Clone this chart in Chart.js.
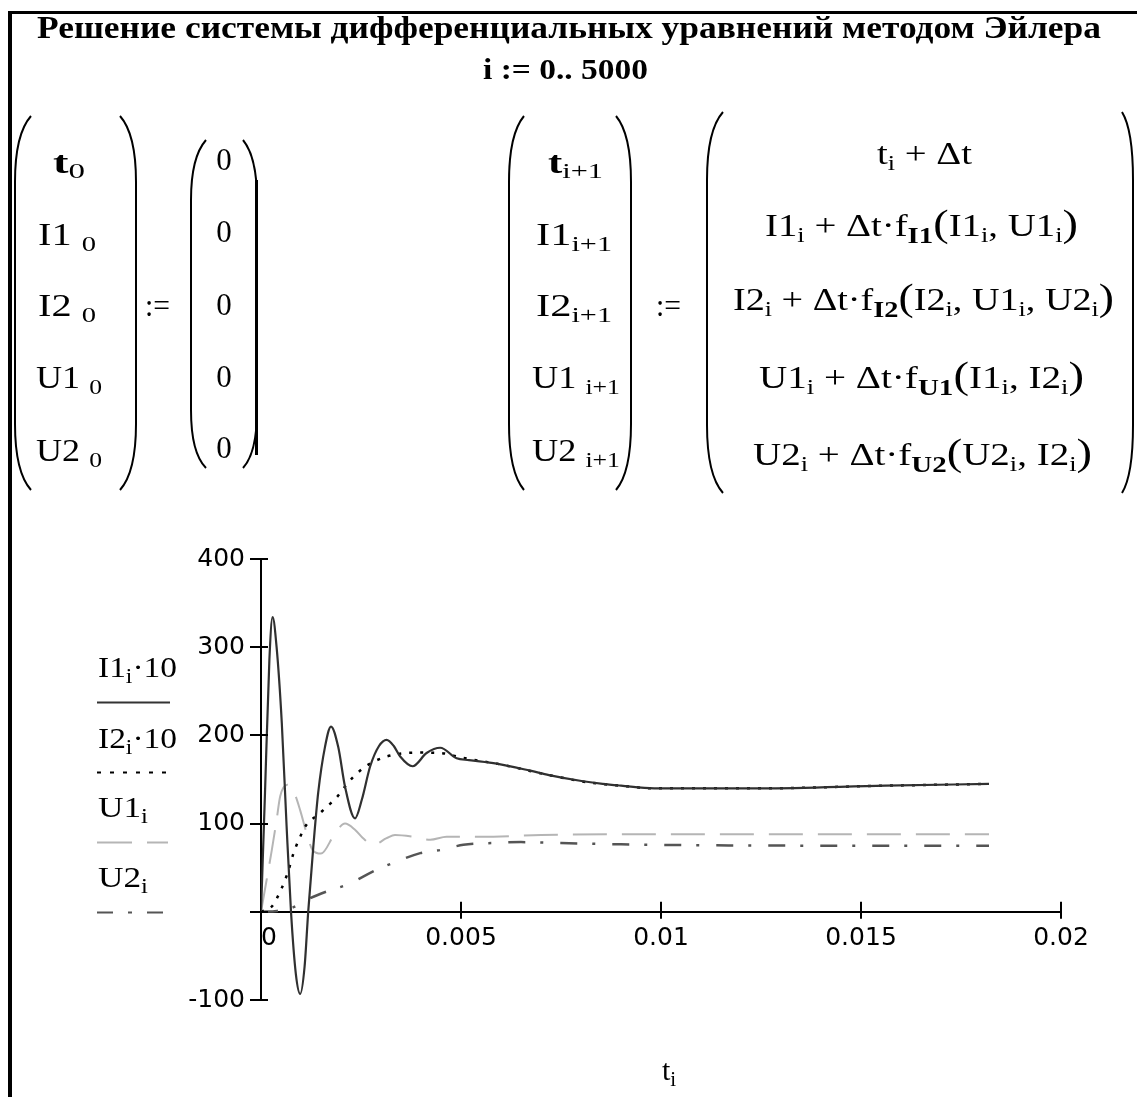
<!DOCTYPE html>
<html>
<head>
<meta charset="utf-8">
<script src="https://cdn.jsdelivr.net/npm/chart.js@4.4.1/dist/chart.umd.min.js"></script>
<style>
  html, body { margin:0; padding:0; background:#fff; overflow:hidden; }
  #wrap { position:relative; width:1137px; height:1097px; }
  #c { position:absolute; left:0; top:0; width:1137px; height:1097px; }
  #ov { position:absolute; left:0; top:0; width:1137px; height:1097px; pointer-events:none; }
  #ov text { white-space: pre; font-family: "Liberation Serif", "Times New Roman", serif; fill:#000; }
</style>
</head>
<body>
<div id="wrap">
<canvas id="c" width="1137" height="1097"></canvas>
<svg id="ov" width="1137" height="1097" viewBox="0 0 1137 1097" xmlns="http://www.w3.org/2000/svg">
  <!-- frame -->
  <rect x="8" y="11" width="1129" height="3" fill="#000"/>
  <rect x="8" y="11" width="4" height="1086" fill="#000"/>

  <!-- title -->
  <text x="37" y="38" font-size="32" font-weight="bold" textLength="1064" lengthAdjust="spacingAndGlyphs">Решение системы дифференциальных уравнений методом Эйлера</text>
  <text x="483" y="79" font-size="29" font-weight="bold" textLength="165" lengthAdjust="spacingAndGlyphs">i := 0.. 5000</text>

  <!-- parentheses -->
  <g fill="none" stroke="#000" stroke-width="2">
    <path d="M31 116 Q15 134 15 182 L15 424 Q15 472 31 490"/>
    <path d="M120 116 Q136 134 136 182 L136 424 Q136 472 120 490"/>
    <path d="M206 140 Q191 157 191 200 L191 410 Q191 453 206 468"/>
    <path d="M243 140 Q257 157 257 200 L257 410 Q257 453 243 468"/>
    <path d="M524 116 Q509 134 509 182 L509 424 Q509 472 524 490"/>
    <path d="M616 116 Q631 134 631 182 L631 424 Q631 472 616 490"/>
    <path d="M723 112 Q707 130 707 180 L707 425 Q707 475 723 493"/>
    <path d="M1122 112 Q1133 130 1133 180 L1133 425 Q1133 475 1122 493"/>
  </g>
  <rect x="255" y="180" width="3" height="275" fill="#000"/>

  <g font-size="31">
    <text x="53" y="173" textLength="32" lengthAdjust="spacingAndGlyphs"><tspan font-weight="bold">t</tspan><tspan dy="5" font-size="22">0</tspan></text>
    <text x="38" y="245" textLength="58" lengthAdjust="spacingAndGlyphs">I1 <tspan dy="6" font-size="22">0</tspan></text>
    <text x="38" y="316" textLength="58" lengthAdjust="spacingAndGlyphs">I2 <tspan dy="6" font-size="22">0</tspan></text>
    <text x="36" y="388" textLength="66" lengthAdjust="spacingAndGlyphs">U1 <tspan dy="6" font-size="22">0</tspan></text>
    <text x="36" y="461" textLength="66" lengthAdjust="spacingAndGlyphs">U2 <tspan dy="6" font-size="22">0</tspan></text>

    <text x="145" y="316" textLength="25" lengthAdjust="spacingAndGlyphs">:=</text>

    <text x="224" y="170" text-anchor="middle">0</text>
    <text x="224" y="242" text-anchor="middle">0</text>
    <text x="224" y="315" text-anchor="middle">0</text>
    <text x="224" y="387" text-anchor="middle">0</text>
    <text x="224" y="458" text-anchor="middle">0</text>

    <text x="548" y="173" textLength="55" lengthAdjust="spacingAndGlyphs"><tspan font-weight="bold">t</tspan><tspan dy="5" font-size="22">i+1</tspan></text>
    <text x="536" y="245" textLength="76" lengthAdjust="spacingAndGlyphs">I1<tspan dy="6" font-size="22">i+1</tspan></text>
    <text x="536" y="316" textLength="76" lengthAdjust="spacingAndGlyphs">I2<tspan dy="6" font-size="22">i+1</tspan></text>
    <text x="532" y="388" textLength="88" lengthAdjust="spacingAndGlyphs">U1 <tspan dy="6" font-size="22">i+1</tspan></text>
    <text x="532" y="461" textLength="88" lengthAdjust="spacingAndGlyphs">U2 <tspan dy="6" font-size="22">i+1</tspan></text>

    <text x="656" y="316" textLength="25" lengthAdjust="spacingAndGlyphs">:=</text>

    <text x="877" y="164" textLength="95" lengthAdjust="spacingAndGlyphs">t<tspan dy="6" font-size="21">i</tspan><tspan dy="-6"> + Δt</tspan></text>
    <text x="765" y="236" textLength="313" lengthAdjust="spacingAndGlyphs">I1<tspan dy="6" font-size="21">i</tspan><tspan dy="-6"> + Δt·f</tspan><tspan dy="7" font-size="23" font-weight="bold">I1</tspan><tspan dy="-7" font-size="37">(</tspan>I1<tspan dy="6" font-size="21">i</tspan><tspan dy="-6">, U1</tspan><tspan dy="6" font-size="21">i</tspan><tspan dy="-6" font-size="37">)</tspan></text>
    <text x="733" y="310" textLength="381" lengthAdjust="spacingAndGlyphs">I2<tspan dy="6" font-size="21">i</tspan><tspan dy="-6"> + Δt·f</tspan><tspan dy="7" font-size="23" font-weight="bold">I2</tspan><tspan dy="-7" font-size="37">(</tspan>I2<tspan dy="6" font-size="21">i</tspan><tspan dy="-6">, U1</tspan><tspan dy="6" font-size="21">i</tspan><tspan dy="-6">, U2</tspan><tspan dy="6" font-size="21">i</tspan><tspan dy="-6" font-size="37">)</tspan></text>
    <text x="759" y="388" textLength="325" lengthAdjust="spacingAndGlyphs">U1<tspan dy="6" font-size="21">i</tspan><tspan dy="-6"> + Δt·f</tspan><tspan dy="7" font-size="23" font-weight="bold">U1</tspan><tspan dy="-7" font-size="37">(</tspan>I1<tspan dy="6" font-size="21">i</tspan><tspan dy="-6">, I2</tspan><tspan dy="6" font-size="21">i</tspan><tspan dy="-6" font-size="37">)</tspan></text>
    <text x="753" y="465" textLength="339" lengthAdjust="spacingAndGlyphs">U2<tspan dy="6" font-size="21">i</tspan><tspan dy="-6"> + Δt·f</tspan><tspan dy="7" font-size="23" font-weight="bold">U2</tspan><tspan dy="-7" font-size="37">(</tspan>U2<tspan dy="6" font-size="21">i</tspan><tspan dy="-6">, I2</tspan><tspan dy="6" font-size="21">i</tspan><tspan dy="-6" font-size="37">)</tspan></text>
  </g>

  <!-- legend -->
  <g font-size="30">
    <text x="98" y="677" textLength="79" lengthAdjust="spacingAndGlyphs">I1<tspan dy="6" font-size="21">i</tspan><tspan dy="-6">·10</tspan></text>
    <text x="98" y="748" textLength="79" lengthAdjust="spacingAndGlyphs">I2<tspan dy="6" font-size="21">i</tspan><tspan dy="-6">·10</tspan></text>
    <text x="98" y="817" textLength="50" lengthAdjust="spacingAndGlyphs">U1<tspan dy="6" font-size="21">i</tspan></text>
    <text x="98" y="887" textLength="50" lengthAdjust="spacingAndGlyphs">U2<tspan dy="6" font-size="21">i</tspan></text>
  </g>
  <line x1="97" y1="702.5" x2="170" y2="702.5" stroke="#333" stroke-width="2"/>
  <line x1="97" y1="772.5" x2="168" y2="772.5" stroke="#000" stroke-width="2" stroke-dasharray="4 9"/>
  <line x1="97" y1="842.5" x2="168" y2="842.5" stroke="#b5b5b5" stroke-width="2" stroke-dasharray="35 15"/>
  <line x1="97" y1="912.5" x2="164" y2="912.5" stroke="#555" stroke-width="2" stroke-dasharray="16 15 4 15"/>

  <!-- x axis title -->
  <text x="662" y="1080" font-size="30">t<tspan dy="6" font-size="21">i</tspan></text>
</svg>
</div>
<script>
// ---- data ----
const xTickValues = [0, 0.005, 0.01, 0.015, 0.02];
const xTickLabels = ['0', '0.005', '0.01', '0.015', '0.02'];
const yTickValues = [-100, 0, 100, 200, 300, 400];
const yTickLabels = ['-100', '', '100', '200', '300', '400'];

const seriesNames = ['I1·10', 'I2·10', 'U1', 'U2'];

const tI1 = [0, 0.0001, 0.00021, 0.00029, 0.00039, 0.00052, 0.00064, 0.00075, 0.00087, 0.00098, 0.00109, 0.00118, 0.00131, 0.00143, 0.0016, 0.00175, 0.00193, 0.0021, 0.00235, 0.00252, 0.00273, 0.00295, 0.00314, 0.00332, 0.00348, 0.00379, 0.00414, 0.00448, 0.00489, 0.0052, 0.00589, 0.00673, 0.0072, 0.00805, 0.00854, 0.009, 0.00983, 0.0125, 0.0156, 0.0182];
const I1x10 = [0, 135, 286, 334, 300, 214, 97, 0, -70, -93, -62, 0, 75, 135, 187, 210, 187, 142, 106, 127, 165, 188, 195, 188, 176, 165, 180, 186, 174, 172, 168, 160, 155, 148, 145, 143, 140, 140, 143, 145];

const tI2 = [0, 0.00027, 0.0005, 0.00068, 0.00081, 0.00093, 0.00114, 0.00143, 0.00164, 0.00188, 0.0021, 0.00231, 0.00256, 0.00281, 0.00314, 0.00364, 0.00406, 0.0045, 0.005, 0.0055, 0.006, 0.0067, 0.0072, 0.008, 0.0085, 0.009, 0.0098, 0.0125, 0.0156, 0.0182];
const I2x10 = [0, 6, 25, 46, 66, 80, 99, 110, 119, 129, 142, 153, 163, 170, 176, 180, 180.5, 180, 175, 171, 167, 160, 155, 148, 145, 143, 140, 140, 143, 145];

const tU1 = [0, 0.00014, 0.00027, 0.00039, 0.00048, 0.00066, 0.00082, 0.00098, 0.00114, 0.00129, 0.0015, 0.00185, 0.0021, 0.00235, 0.00256, 0.00281, 0.00314, 0.00335, 0.00381, 0.00423, 0.00464, 0.0055, 0.007, 0.009, 0.0182];
const U1 = [0, 36, 70, 104, 131, 144, 136, 115, 89, 70, 66, 89, 100, 93, 83, 76, 83.5, 87, 85, 81.6, 85, 85, 87, 88, 88];

const tU2 = [0, 0.0004, 0.0008, 0.00114, 0.00164, 0.00214, 0.00289, 0.00339, 0.00398, 0.00448, 0.00506, 0.0058, 0.0065, 0.0075, 0.009, 0.011, 0.014, 0.0182];
const U2 = [0, 1, 5, 13.6, 23, 30.6, 47.6, 57, 66.5, 70, 76, 78, 79, 78, 76.5, 75.5, 75, 75];

// ---- chart ----
const pts = (ts, vs) => ts.map((t, i) => ({ x: t, y: vs[i] }));

const crossTicks = {
  id: 'crossTicks',
  afterDraw(chart) {
    const { ctx, scales: { x, y } } = chart;
    const ax = x.getPixelForValue(0);
    const ay = y.getPixelForValue(0);
    ctx.save();
    ctx.strokeStyle = '#000';
    ctx.lineWidth = 2;
    ctx.beginPath();
    yTickValues.forEach(v => {
      const py = Math.round(y.getPixelForValue(v));
      ctx.moveTo(ax - 11, py); ctx.lineTo(ax + 7, py);
    });
    xTickValues.forEach(v => {
      if (v === 0) return;
      const px = Math.round(x.getPixelForValue(v));
      ctx.moveTo(px, ay - 10); ctx.lineTo(px, ay + 7);
    });
    ctx.stroke();
    ctx.restore();
  }
};

const tickFont = { family: 'DejaVu Sans', size: 25 };

new Chart(document.getElementById('c'), {
  type: 'line',
  data: {
    datasets: [
      { label: seriesNames[0], data: pts(tI1, I1x10), borderColor: '#303030', borderWidth: 2.2, pointRadius: 0, cubicInterpolationMode: 'monotone', fill: false },
      { label: seriesNames[1], data: pts(tI2, I2x10), borderColor: '#000000', borderWidth: 2.5, borderDash: [3, 8], pointRadius: 0, cubicInterpolationMode: 'monotone', fill: false },
      { label: seriesNames[2], data: pts(tU1, U1), borderColor: '#b5b5b5', borderWidth: 2, borderDash: [34, 15], pointRadius: 0, cubicInterpolationMode: 'monotone', fill: false },
      { label: seriesNames[3], data: pts(tU2, U2), borderColor: '#555555', borderWidth: 2.5, borderDash: [17, 15, 3, 17], pointRadius: 0, cubicInterpolationMode: 'monotone', fill: false }
    ]
  },
  options: {
    responsive: false,
    animation: false,
    devicePixelRatio: 1,
    layout: { padding: { left: 181, top: 559, right: 76, bottom: 97 } },
    plugins: { legend: { display: false }, tooltip: { enabled: false } },
    scales: {
      x: {
        type: 'linear', min: 0, max: 0.02,
        position: { y: 0 },
        afterBuildTicks: s => { s.ticks = xTickValues.map(v => ({ value: v })); },
        grid: { display: false, drawTicks: false },
        border: { display: true, color: '#000', width: 2 },
        ticks: {
          autoSkip: false, maxRotation: 0, padding: 12, color: '#000', font: tickFont,
          callback: (v, i) => (i === 0 ? '  ' : '') + xTickLabels[i]
        }
      },
      y: {
        type: 'linear', min: -100, max: 400,
        position: 'left',
        afterFit: s => { s.width = 80; },
        afterBuildTicks: s => { s.ticks = yTickValues.map(v => ({ value: v })); },
        grid: { display: false, drawTicks: false },
        border: { display: true, color: '#000', width: 2 },
        ticks: {
          autoSkip: false, padding: 16, color: '#000', font: tickFont,
          callback: (v, i) => yTickLabels[i]
        }
      }
    }
  },
  plugins: [crossTicks]
});
</script>
</body>
</html>
